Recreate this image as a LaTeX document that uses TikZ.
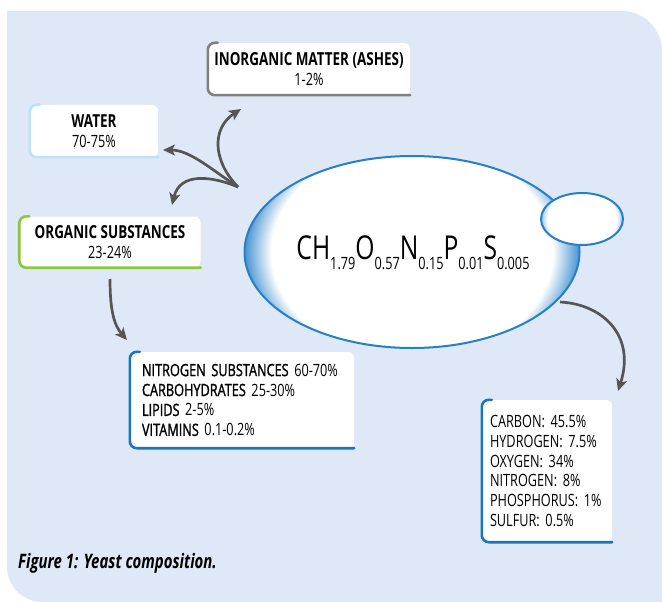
\documentclass[tikz,border=0pt]{standalone}
\usepackage{fontspec}
\setmainfont{Open Sans}[FakeStretch=0.75]
\newfontfamily\semibfont{Open Sans}[FakeStretch=0.75, FakeBold=1.3]
\usetikzlibrary{arrows.meta,shapes.geometric}
\definecolor{bgpanel}{HTML}{DFE8F6}
\definecolor{accgray}{HTML}{808080}
\definecolor{accwater}{HTML}{BDE1F7}
\definecolor{accgreen}{HTML}{8CC63F}
\definecolor{accblue}{HTML}{1B75BC}
\definecolor{eggline}{HTML}{2680C8}
\definecolor{arrowgray}{HTML}{555555}
\pgfdeclareradialshading{eggshade}{\pgfpoint{0bp}{0bp}}{color(0bp)=(white); color(21bp)=(white); color(25bp)=(eggline!85!white); color(50bp)=(eggline!85!white)}
\pgfdeclareradialshading{budshade}{\pgfpoint{0bp}{0bp}}{color(0bp)=(white); color(21bp)=(white); color(25bp)=(eggline!45!white); color(50bp)=(eggline!45!white)}
\tikzset{
  boxbase/.style={fill=white, rounded corners=6bp, inner sep=0pt, font=\fontsize{17}{20}\selectfont},
  titlebox/.style={boxbase, align=center},
  listbox/.style={boxbase, align=left},
  accent/.style={line width=2.6bp, rounded corners=7bp, line cap=round},
  cellline/.style={ellipse, draw=eggline, line width=2bp, inner sep=0pt},
  linkarrow/.style={draw=arrowgray, line width=2.7bp, -{Stealth[length=12bp,width=11bp,inset=3bp]}}
}
\newcommand{\fsub}[1]{\raisebox{-0.3em}{\fontsize{17}{17}\selectfont #1}}
\newcommand{\boxtitle}[1]{{\fontsize{18}{20}\selectfont\bfseries #1}}
\newcommand{\itemlabel}[1]{{\semibfont #1}}
\begin{document}
\begin{tikzpicture}[x=1bp,y=-1bp]
\useasboundingbox (0,0) rectangle (662,602);
% panel
\fill[bgpanel] (7,11) -- (622,11) .. controls (644,11) and (662,29) .. (662,51) -- (662,602) -- (42,602) .. controls (23,602) and (7,586) .. (7,567) -- cycle;

% boxes
\node[titlebox, minimum width=202bp, minimum height=52bp] (inorg) at (309,69) {\boxtitle{INORGANIC MATTER (ASHES)}\\1-2\%};
\node[titlebox, minimum width=128bp, minimum height=52bp] (water) at (94,131) {\boxtitle{WATER}\\70-75\%};
\node[titlebox, minimum width=181bp, minimum height=51bp] (organic) at (110,242) {\boxtitle{ORGANIC SUBSTANCES}\\23-24\%};
\node[listbox, minimum width=224bp, minimum height=96bp, text width=200bp] (nitro) at (242,400) {\itemlabel{NITROGEN SUBSTANCES} 60-70\%\\\itemlabel{CARBOHYDRATES} 25-30\%\\\itemlabel{LIPIDS} 2-5\%\\\itemlabel{VITAMINS} 0.1-0.2\%};
\node[listbox, minimum width=130bp, minimum height=142bp, text width=114bp, inner xsep=8bp, xshift=2bp] (carbon) at (545,471) {CARBON: 45.5\%\\HYDROGEN: 7.5\%\\OXYGEN: 34\%\\NITROGEN: 8\%\\PHOSPHORUS: 1\%\\SULFUR: 0.5\%};

\draw[accent, accgray] ([xshift=10bp]inorg.north west) -- (inorg.north west) -- (inorg.south west) -- (inorg.south east);
\draw[accent, accwater] ([xshift=10bp]water.north west) -- (water.north west) -- (water.south west) -- (water.south east);
\draw[accent, accgreen] ([xshift=10bp]organic.north west) -- (organic.north west) -- (organic.south west) -- (organic.south east);
\draw[accent, accblue] ([xshift=10bp]nitro.north west) -- (nitro.north west) -- (nitro.south west) -- (nitro.south east);
\draw[accent, accblue] ([xshift=10bp]carbon.north west) -- (carbon.north west) -- (carbon.south west) -- (carbon.south east);

% cell body with inner glow mostly at the sides
\begin{scope}
  \clip (412,252) ellipse [x radius=167.5, y radius=96];
  \shade[shading=eggshade] (412,252) ellipse [x radius=167.5, y radius=128];
\end{scope}
\node[cellline, minimum width=335bp, minimum height=192bp] (cell) at (412,252) {};
% bud
\begin{scope}
  \clip (582,219) ellipse [x radius=41, y radius=26];
  \shade[shading=budshade] (582,219) ellipse [x radius=41, y radius=36];
\end{scope}
\node[cellline, minimum width=82bp, minimum height=52bp] (bud) at (582,219) {};
\node[font=\fontsize{33}{33}\selectfont, inner sep=0pt] (formula) at (413,253) {CH\fsub{1.79}O\fsub{0.57}N\fsub{0.15}P\fsub{0.01}S\fsub{0.005}};

% arrows
\coordinate (hub) at (238,187);
\coordinate (tipinorg) at (241,109);
\coordinate (tipwater) at (163,150);
\coordinate (tiporg) at (172,205);
\coordinate (startnit) at (110,279);
\coordinate (tipnit) at (127,340);
\coordinate (startcell) at (560,302);
\coordinate (tipcarb) at (618,391);
\draw[linkarrow] (hub) .. controls (212,160) and (212,128) .. (tipinorg);
\draw[linkarrow] (hub) .. controls (212,170) and (190,150) .. (tipwater);
\draw[linkarrow] (hub) .. controls (212,176) and (180,172) .. (tiporg);
\draw[linkarrow] (startnit) .. controls (110,310) and (114,325) .. (tipnit);
\draw[linkarrow] (startcell) .. controls (602,304) and (636,335) .. (tipcarb);

% caption
\node[anchor=west, inner sep=0pt, font=\fontsize{20}{20}\selectfont\bfseries\itshape] (caption) at (18,563) {Figure 1: Yeast composition.};
\end{tikzpicture}
\end{document}
